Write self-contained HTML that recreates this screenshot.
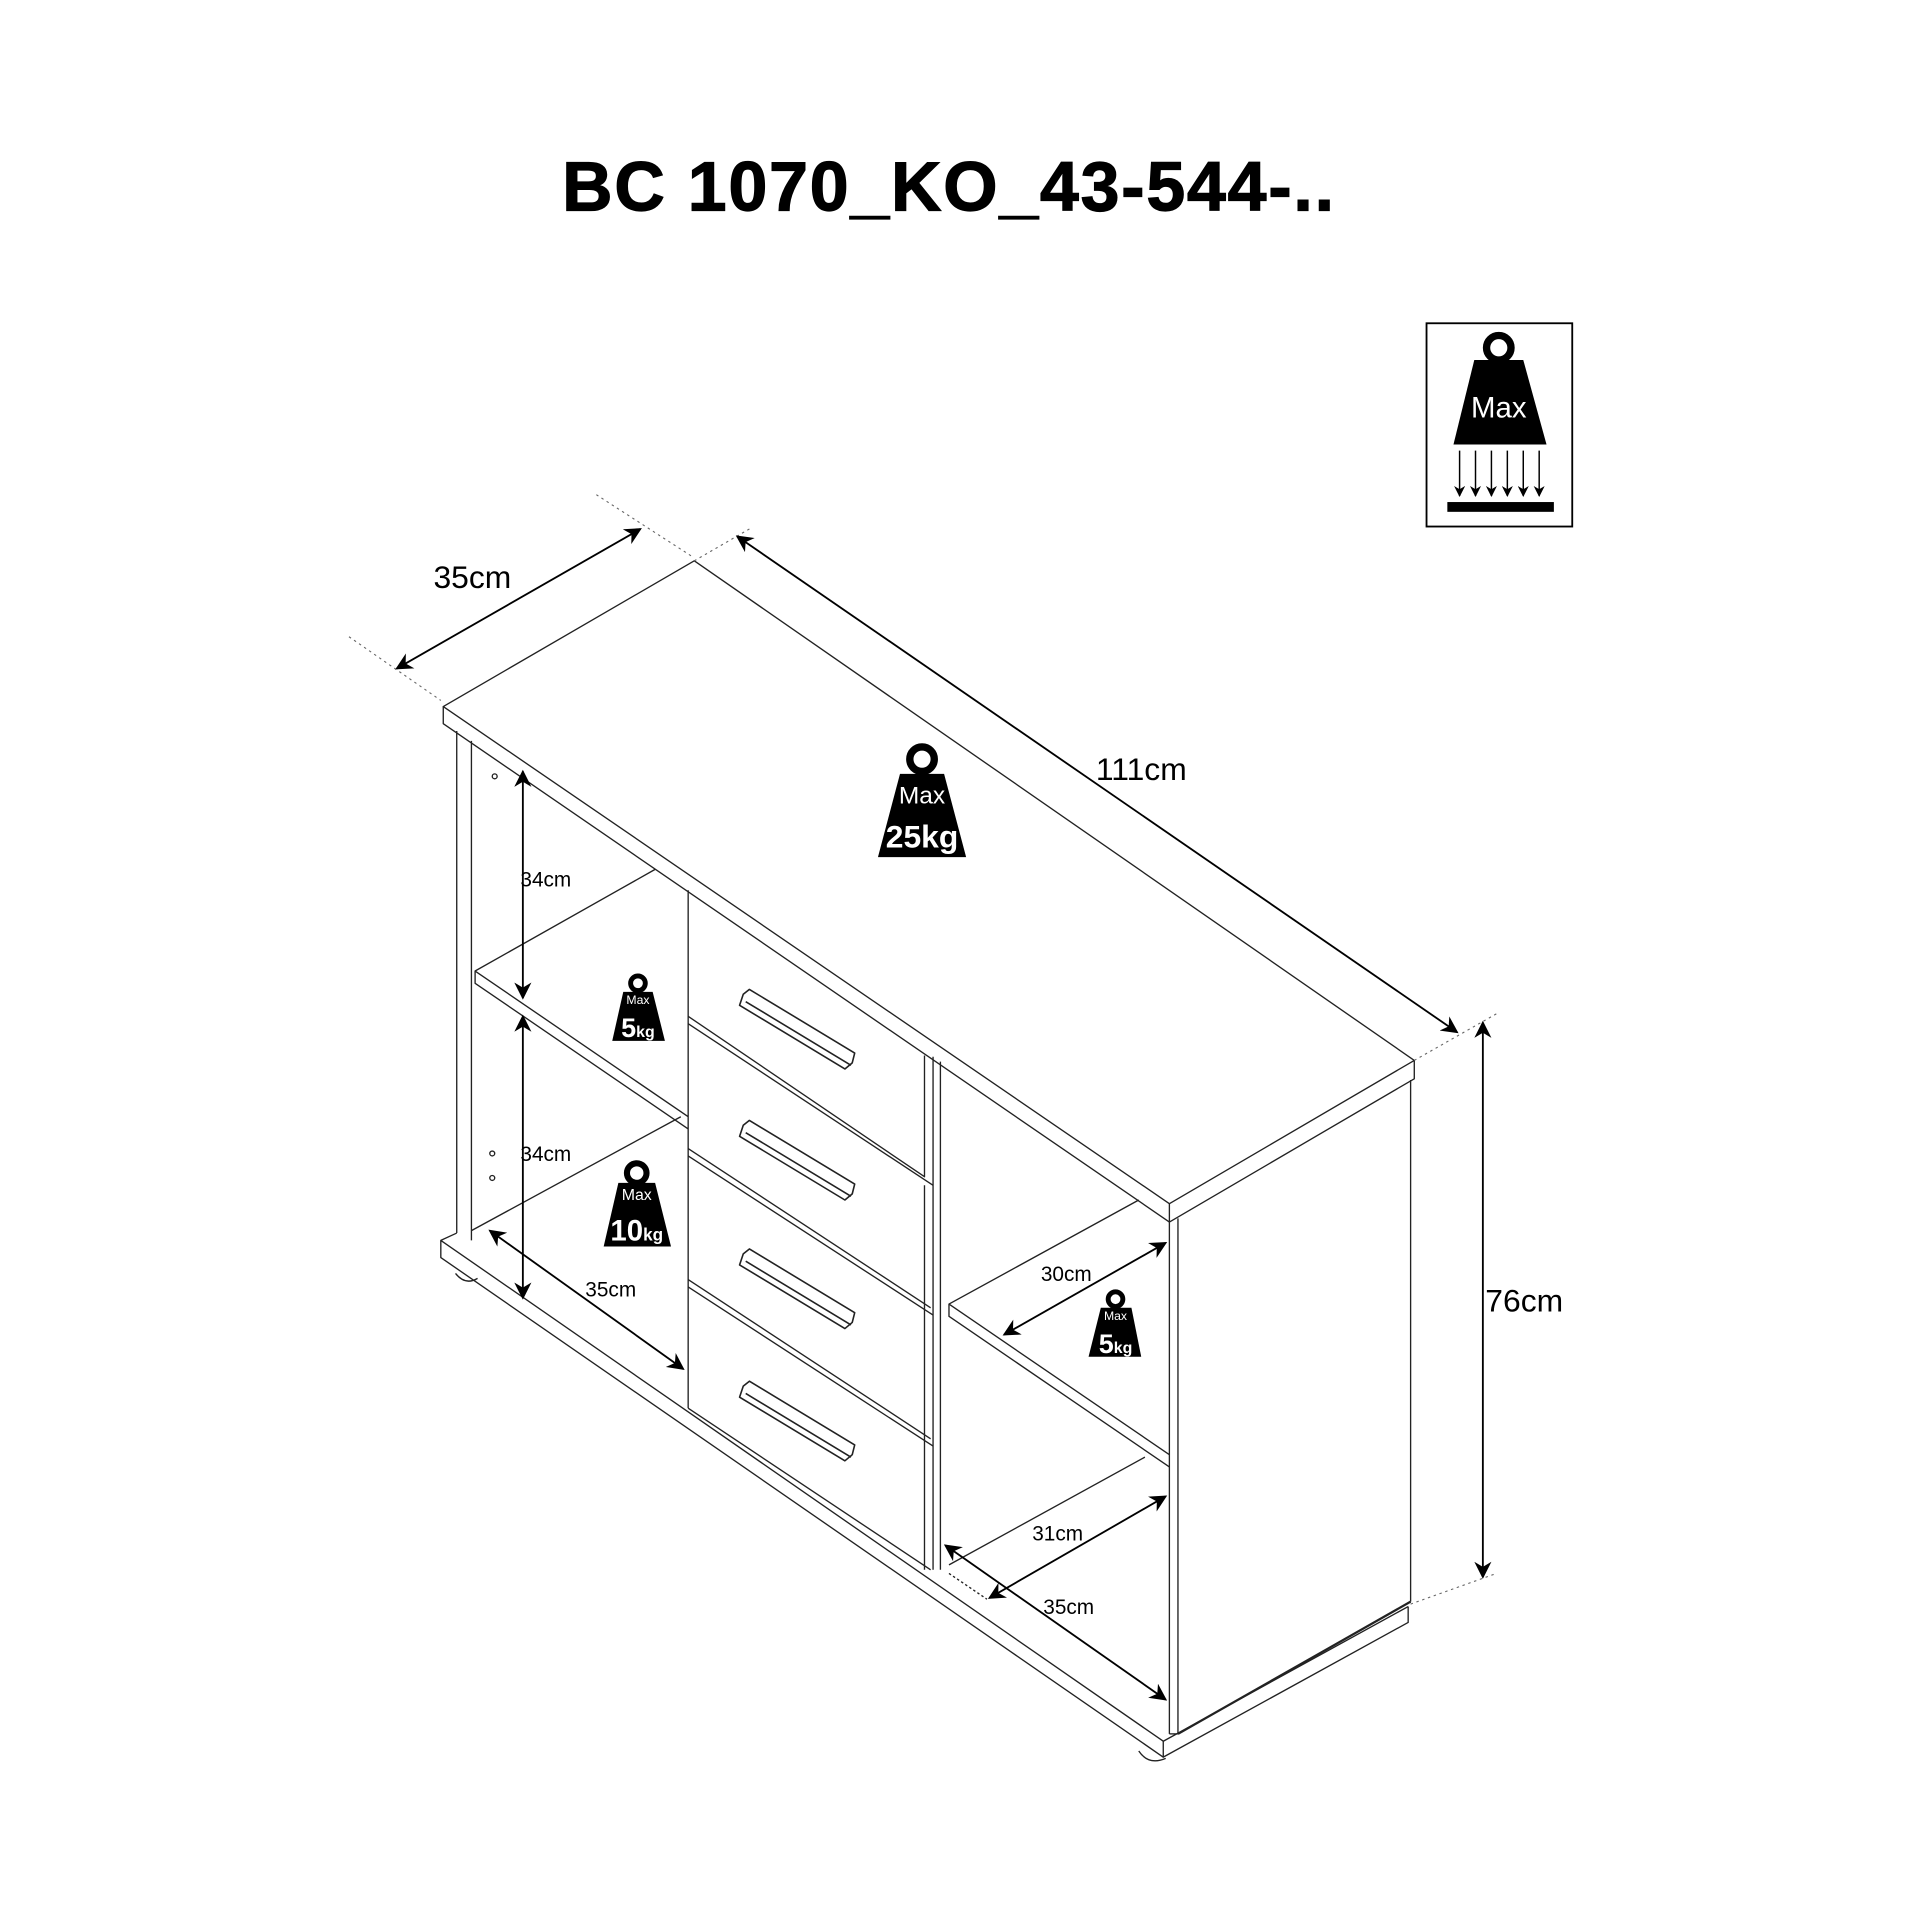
<!DOCTYPE html>
<html><head><meta charset="utf-8"><style>
html,body{margin:0;padding:0;background:#fff;}
svg{display:block;}
text{font-family:"Liberation Sans",Arial,sans-serif;}
</style></head><body>
<svg width="1920" height="1920" viewBox="0 0 1568 1568" xmlns="http://www.w3.org/2000/svg">
<defs>
<marker id="ah" viewBox="0 0 10 10" refX="9" refY="5" markerWidth="9" markerHeight="9" orient="auto-start-reverse" markerUnits="userSpaceOnUse">
<path d="M0,0 L10,5 L0,10 L3,5 z" fill="#000"/></marker>
<marker id="ah2" viewBox="0 0 10 10" refX="9" refY="5" markerWidth="14" markerHeight="14" orient="auto-start-reverse" markerUnits="userSpaceOnUse">
<path d="M0,0 L10,5 L0,10 L3,5 z" fill="#000"/></marker>
</defs>
<rect width="1568" height="1568" fill="#fff"/>
<text x="775" y="172" font-size="57" font-weight="bold" text-anchor="middle" letter-spacing="1.5" stroke="#000" stroke-width="1">BC 1070_KO_43-544-..</text>

<!-- top-right icon -->
<rect x="1165" y="264" width="119" height="166" fill="none" stroke="#000" stroke-width="1.5"/>
<circle cx="1224" cy="284" r="10" fill="none" stroke="#000" stroke-width="6"/>
<polygon points="1204,294 1244,294 1263,363 1187,363" fill="#000"/>
<text x="1224" y="341" font-size="24" fill="#fff" text-anchor="middle">Max</text>
<g stroke="#000" stroke-width="1.2" marker-end="url(#ah)">
<line x1="1192" y1="368" x2="1192" y2="405"/><line x1="1205" y1="368" x2="1205" y2="405"/>
<line x1="1218" y1="368" x2="1218" y2="405"/><line x1="1231" y1="368" x2="1231" y2="405"/>
<line x1="1244" y1="368" x2="1244" y2="405"/><line x1="1257" y1="368" x2="1257" y2="405"/>
</g>
<rect x="1182" y="410" width="87" height="8" fill="#000"/>

<!-- cabinet -->
<g fill="none" stroke="#222" stroke-width="1.1" stroke-linejoin="round">
<polygon points="362,577 567,458 1155,866 955,983"/>
<polyline points="362,577 362,591 955,998 1155,881 1155,866"/>
<line x1="955" y1="983" x2="955" y2="998"/>
<line x1="373" y1="597" x2="373" y2="1007"/>
<line x1="385" y1="605" x2="385" y2="1013"/>
<polyline points="535,710 388,793 388,803 562,922"/>
<line x1="388" y1="793" x2="562" y2="912"/>
<line x1="385" y1="1005" x2="556" y2="912"/>
<polyline points="373,1007 360,1013 360,1027 950,1435 1150,1325 1150,1312"/>
<polyline points="360,1013 950,1422 1150,1312"/>
<line x1="950" y1="1422" x2="950" y2="1435"/>
<path d="M372,1040 q8,10 18,4"/>
<path d="M930,1430 q8,12 22,6"/>
<line x1="955" y1="998" x2="955" y2="1416"/>
<line x1="962" y1="995" x2="962" y2="1416"/>
<line x1="1152" y1="882" x2="1152" y2="1308"/>
<line x1="962" y1="1416" x2="1152" y2="1308" stroke-width="1.8"/>
<line x1="955" y1="1416" x2="962" y2="1416"/>
<line x1="762" y1="863" x2="762" y2="1282"/>
<line x1="768" y1="867" x2="768" y2="1282"/>
<polyline points="930,980 775,1065 775,1075 955,1198"/>
<line x1="775" y1="1065" x2="955" y2="1188"/>
<line x1="775" y1="1278" x2="935" y2="1190"/>
<line x1="775" y1="1285" x2="806" y2="1306" stroke-dasharray="2,2"/>
<line x1="562" y1="727" x2="562" y2="1150"/>
<polyline points="562,830 755,961 755,862"/>
<line x1="562" y1="836" x2="762" y2="968"/>
<polyline points="562,938 760,1068"/>
<line x1="562" y1="944" x2="762" y2="1074"/>
<polyline points="562,1045 760,1175"/>
<line x1="562" y1="1051" x2="762" y2="1181"/>
<polyline points="562,1150 760,1282"/>
<line x1="755" y1="968" x2="755" y2="1282"/>
<g stroke-width="1.3">
<path d="M607,812 l5,-4 l86,52 l-2,8 l-6,5 l-86,-52 z M609,818 l86,52"/>
<path d="M607,919 l5,-4 l86,52 l-2,8 l-6,5 l-86,-52 z M609,925 l86,52"/>
<path d="M607,1024 l5,-4 l86,52 l-2,8 l-6,5 l-86,-52 z M609,1030 l86,52"/>
<path d="M607,1132 l5,-4 l86,52 l-2,8 l-6,5 l-86,-52 z M609,1138 l86,52"/>
</g>
<circle cx="404" cy="634" r="2"/><circle cx="402" cy="942" r="2"/><circle cx="402" cy="962" r="2"/>
</g>

<g stroke="#666" stroke-width="0.9" stroke-dasharray="2,3" fill="none">
<line x1="285" y1="520" x2="360" y2="572"/>
<line x1="487" y1="404" x2="566" y2="455"/>
<line x1="567" y1="458" x2="612" y2="432"/>
<line x1="1155" y1="866" x2="1222" y2="828"/>
<line x1="1152" y1="1310" x2="1222" y2="1285"/>
</g>

<g stroke="#000" stroke-width="1.5" marker-start="url(#ah2)" marker-end="url(#ah2)">
<line x1="324" y1="546" x2="523" y2="432"/>
<line x1="602" y1="438" x2="1190" y2="843"/>
<line x1="1211" y1="835" x2="1211" y2="1288"/>
<line x1="427" y1="630" x2="427" y2="815"/>
<line x1="427" y1="830" x2="427" y2="1060"/>
<line x1="400" y1="1005" x2="558" y2="1118"/>
<line x1="820" y1="1090" x2="952" y2="1015"/>
<line x1="808" y1="1305" x2="952" y2="1222"/>
<line x1="772" y1="1262" x2="952" y2="1388"/>
</g>
<g font-size="26">
<text x="354" y="480">35cm</text>
<text x="895" y="637">111cm</text>
<text x="1213" y="1071">76cm</text>
</g>
<g font-size="17">
<text x="425" y="724">34cm</text>
<text x="425" y="948">34cm</text>
<text x="478" y="1059">35cm</text>
<text x="850" y="1046">30cm</text>
<text x="843" y="1258">31cm</text>
<text x="852" y="1318">35cm</text>
</g>

<circle cx="753" cy="620" r="10" fill="none" stroke="#000" stroke-width="6"/>
<polygon points="735,632 771,632 789,700 717,700" fill="#000"/>
<text x="753" y="656" font-size="20" fill="#fff" text-anchor="middle">Max</text>
<text x="753" y="692" font-size="26" font-weight="bold" fill="#fff" text-anchor="middle">25kg</text>

<circle cx="521" cy="803" r="6" fill="none" stroke="#000" stroke-width="4"/>
<polygon points="509,810 533,810 543,850 500,850" fill="#000"/>
<text x="521" y="820" font-size="10" fill="#fff" text-anchor="middle">Max</text>
<text x="521" y="847" fill="#fff" text-anchor="middle" font-weight="bold"><tspan font-size="22">5</tspan><tspan font-size="13">kg</tspan></text>

<circle cx="520" cy="958" r="8" fill="none" stroke="#000" stroke-width="5"/>
<polygon points="505,966 535,966 548,1018 493,1018" fill="#000"/>
<text x="520" y="980" font-size="13" fill="#fff" text-anchor="middle">Max</text>
<text x="520" y="1013" fill="#fff" text-anchor="middle" font-weight="bold"><tspan font-size="24">10</tspan><tspan font-size="14">kg</tspan></text>

<circle cx="911" cy="1061" r="6" fill="none" stroke="#000" stroke-width="4"/>
<polygon points="899,1068 924,1068 932,1108 889,1108" fill="#000"/>
<text x="911" y="1078" font-size="10" fill="#fff" text-anchor="middle">Max</text>
<text x="911" y="1105" fill="#fff" text-anchor="middle" font-weight="bold"><tspan font-size="22">5</tspan><tspan font-size="13">kg</tspan></text>
</svg>
</body></html>
